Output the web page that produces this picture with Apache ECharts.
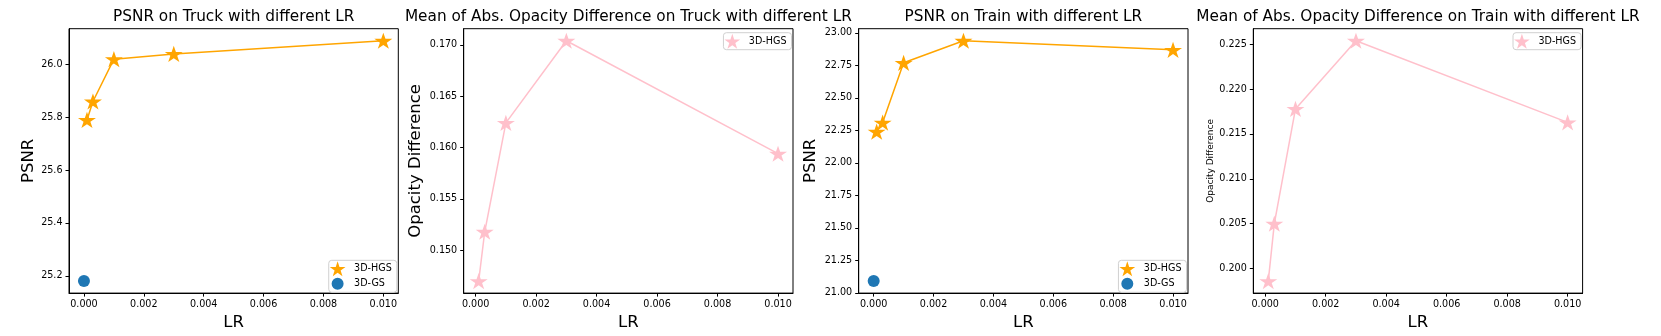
<!DOCTYPE html>
<html>
<head>
<meta charset="utf-8">
<script src="https://cdn.jsdelivr.net/npm/echarts@6/dist/echarts.min.js"></script>
<style>
  html, body { margin: 0; padding: 0; background: #fff; }
  #chart { width: 1661px; height: 336px; }
</style>
</head>
<body>
<div id="chart"></div>
<script>
// learning rates used for 3D-HGS
let lrValues = [0.0001, 0.0003, 0.001, 0.003, 0.01];
let gsLr = [0];
// Truck
let truckPsnr = [25.79, 25.86, 26.02, 26.04, 26.09];
let truckGsPsnr = [25.18];
let truckOpacity = [0.1470, 0.1518, 0.1624, 0.1704, 0.1594];
// Train
let trainPsnr = [22.24, 22.31, 22.77, 22.94, 22.87];
let trainGsPsnr = [21.09];
let trainOpacity = [0.1986, 0.2050, 0.2178, 0.2254, 0.2163];
// tick labels
let lrTicks = [0, 0.002, 0.004, 0.006, 0.008, 0.010];
let truckPsnrTicks = [25.2, 25.4, 25.6, 25.8, 26.0];
let truckOpacityTicks = [0.150, 0.155, 0.160, 0.165, 0.170];
let trainPsnrTicks = [21.00, 21.25, 21.50, 21.75, 22.00, 22.25, 22.50, 22.75, 23.00];
let trainOpacityTicks = [0.200, 0.205, 0.210, 0.215, 0.220, 0.225];

let titles = [
  'PSNR on Truck with different LR',
  'Mean of Abs. Opacity Difference on Truck with different LR',
  'PSNR on Train with different LR',
  'Mean of Abs. Opacity Difference on Train with different LR'
];

const FONT = 'DejaVu Sans';
const STAR = 'path://M50 0 L61.23 34.55 L97.55 34.55 L68.17 55.9 L79.39 90.45 L50 69.1 L20.61 90.45 L31.83 55.9 L2.45 34.55 L38.77 34.55 Z';
// smaller dot for the legend (empty sub paths keep the box square)
const DOT = 'path://M50 0 L50 0 Z M50 100 L50 100 Z M0 50 L0 50 Z M100 50 L100 50 Z M10 50 A40 40 0 1 0 90 50 A40 40 0 1 0 10 50 Z';
const ORANGE = '#FFA500';
const PINK = '#FFC0CB';
const BLUE = '#1f77b4';

let gridLefts = [69, 463.7, 858.7, 1253.3];
let gridW = 329.3, gridTop = 28.7, gridH = 268.6;

// matplotlib style 5% margins
function pad(arr) {
  let lo = Math.min.apply(null, arr), hi = Math.max.apply(null, arr);
  let m = (hi - lo) * 0.05;
  return [lo - m, hi + m];
}
function zip(xs, ys) {
  return xs.map(function (x, i) { return [x, ys[i]]; });
}

let panels = [
  { y: truckPsnr, gs: truckGsPsnr, ticks: truckPsnrTicks, dec: 1, name: 'PSNR', nameSize: 16.5, nameGap: 32, color: ORANGE, legendBottom: true },
  { y: truckOpacity, gs: null, ticks: truckOpacityTicks, dec: 3, name: 'Opacity Difference', nameSize: 16.5, nameGap: 39, color: PINK, legendBottom: false },
  { y: trainPsnr, gs: trainGsPsnr, ticks: trainPsnrTicks, dec: 2, name: 'PSNR', nameSize: 16.5, nameGap: 39.5, color: ORANGE, legendBottom: true },
  { y: trainOpacity, gs: null, ticks: trainOpacityTicks, dec: 3, name: 'Opacity Difference', nameSize: 9, nameGap: 38, color: PINK, legendBottom: false }
];

let option = {
  animation: false,
  backgroundColor: '#fff',
  textStyle: { fontFamily: FONT },
  title: [], grid: [], xAxis: [], yAxis: [], legend: [], series: []
};

panels.forEach(function (p, i) {
  let left = gridLefts[i];
  let xs = p.gs ? lrValues.concat(gsLr) : lrValues;
  let ys = p.gs ? p.y.concat(p.gs) : p.y;
  let xr = pad(xs), yr = pad(ys);

  option.title.push({
    text: titles[i],
    left: left + gridW / 2,
    top: 10,
    textAlign: 'center',
    padding: 0,
    textStyle: { fontFamily: FONT, fontSize: 15.3, fontWeight: 'normal', color: '#000' }
  });
  option.grid.push({
    left: left, top: gridTop, width: gridW, height: gridH,
    show: true, borderColor: '#000', borderWidth: 1, backgroundColor: 'transparent'
  });
  option.xAxis.push({
    type: 'value', gridIndex: i, min: xr[0], max: xr[1],
    name: 'LR', nameLocation: 'middle', nameGap: 17.5,
    nameTextStyle: { fontFamily: FONT, fontSize: 16.5, color: '#000' },
    axisLine: { show: true, onZero: false, lineStyle: { color: '#000', width: 1 } },
    axisTick: { show: true, inside: false, length: 3.5, lineStyle: { color: '#000', width: 1 }, customValues: lrTicks },
    axisLabel: {
      margin: 6, fontFamily: FONT, fontSize: 9.6, color: '#000',
      customValues: lrTicks,
      formatter: function (v) { return v.toFixed(3); }
    },
    splitLine: { show: false }
  });
  option.yAxis.push({
    type: 'value', gridIndex: i, min: yr[0], max: yr[1],
    name: p.name, nameLocation: 'middle', nameGap: p.nameGap,
    nameTextStyle: { fontFamily: FONT, fontSize: p.nameSize, color: '#000' },
    axisLine: { show: true, onZero: false, lineStyle: { color: '#000', width: 1 } },
    axisTick: { show: true, inside: false, length: 3.5, lineStyle: { color: '#000', width: 1 }, customValues: p.ticks },
    axisLabel: {
      margin: 6.5, fontFamily: FONT, fontSize: 9.6, color: '#000',
      customValues: p.ticks,
      formatter: function (v) { return v.toFixed(p.dec); }
    },
    splitLine: { show: false }
  });

  let legendData = [{ name: '3D-HGS', icon: STAR, itemStyle: { color: p.color } }];
  option.series.push({
    name: '3D-HGS', type: 'line', xAxisIndex: i, yAxisIndex: i,
    data: zip(lrValues, p.y),
    symbol: STAR, symbolSize: [18, 17], symbolKeepAspect: true,
    showAllSymbol: true, clip: false,
    lineStyle: { color: p.color, width: 1.5 },
    itemStyle: { color: p.color },
    z: 3
  });
  if (p.gs) {
    legendData.push({ name: '3D-GS', icon: DOT, itemStyle: { color: BLUE } });
    option.series.push({
      name: '3D-GS', type: 'scatter', xAxisIndex: i, yAxisIndex: i,
      data: zip(gsLr, p.gs),
      symbol: 'circle', symbolSize: 12,
      itemStyle: { color: BLUE, opacity: 1 },
      z: 3
    });
  }
  let legendRight = 1661 - (left + gridW - 1.5);
  option.legend.push({
    data: legendData,
    orient: 'vertical',
    right: legendRight,
    top: p.legendBottom ? 260.3 : 32.7,
    padding: [1, 5, 1, 1],
    itemWidth: 23, itemHeight: 15, itemGap: 0,
    backgroundColor: '#fff', borderColor: '#d0d0d0', borderWidth: 1, borderRadius: 3,
    selectedMode: false,
    textStyle: { fontFamily: FONT, fontSize: 9.6, color: '#000' }
  });
});

let chart = echarts.init(document.getElementById('chart'), null, { renderer: 'canvas' });
chart.setOption(option);
</script>
</body>
</html>
